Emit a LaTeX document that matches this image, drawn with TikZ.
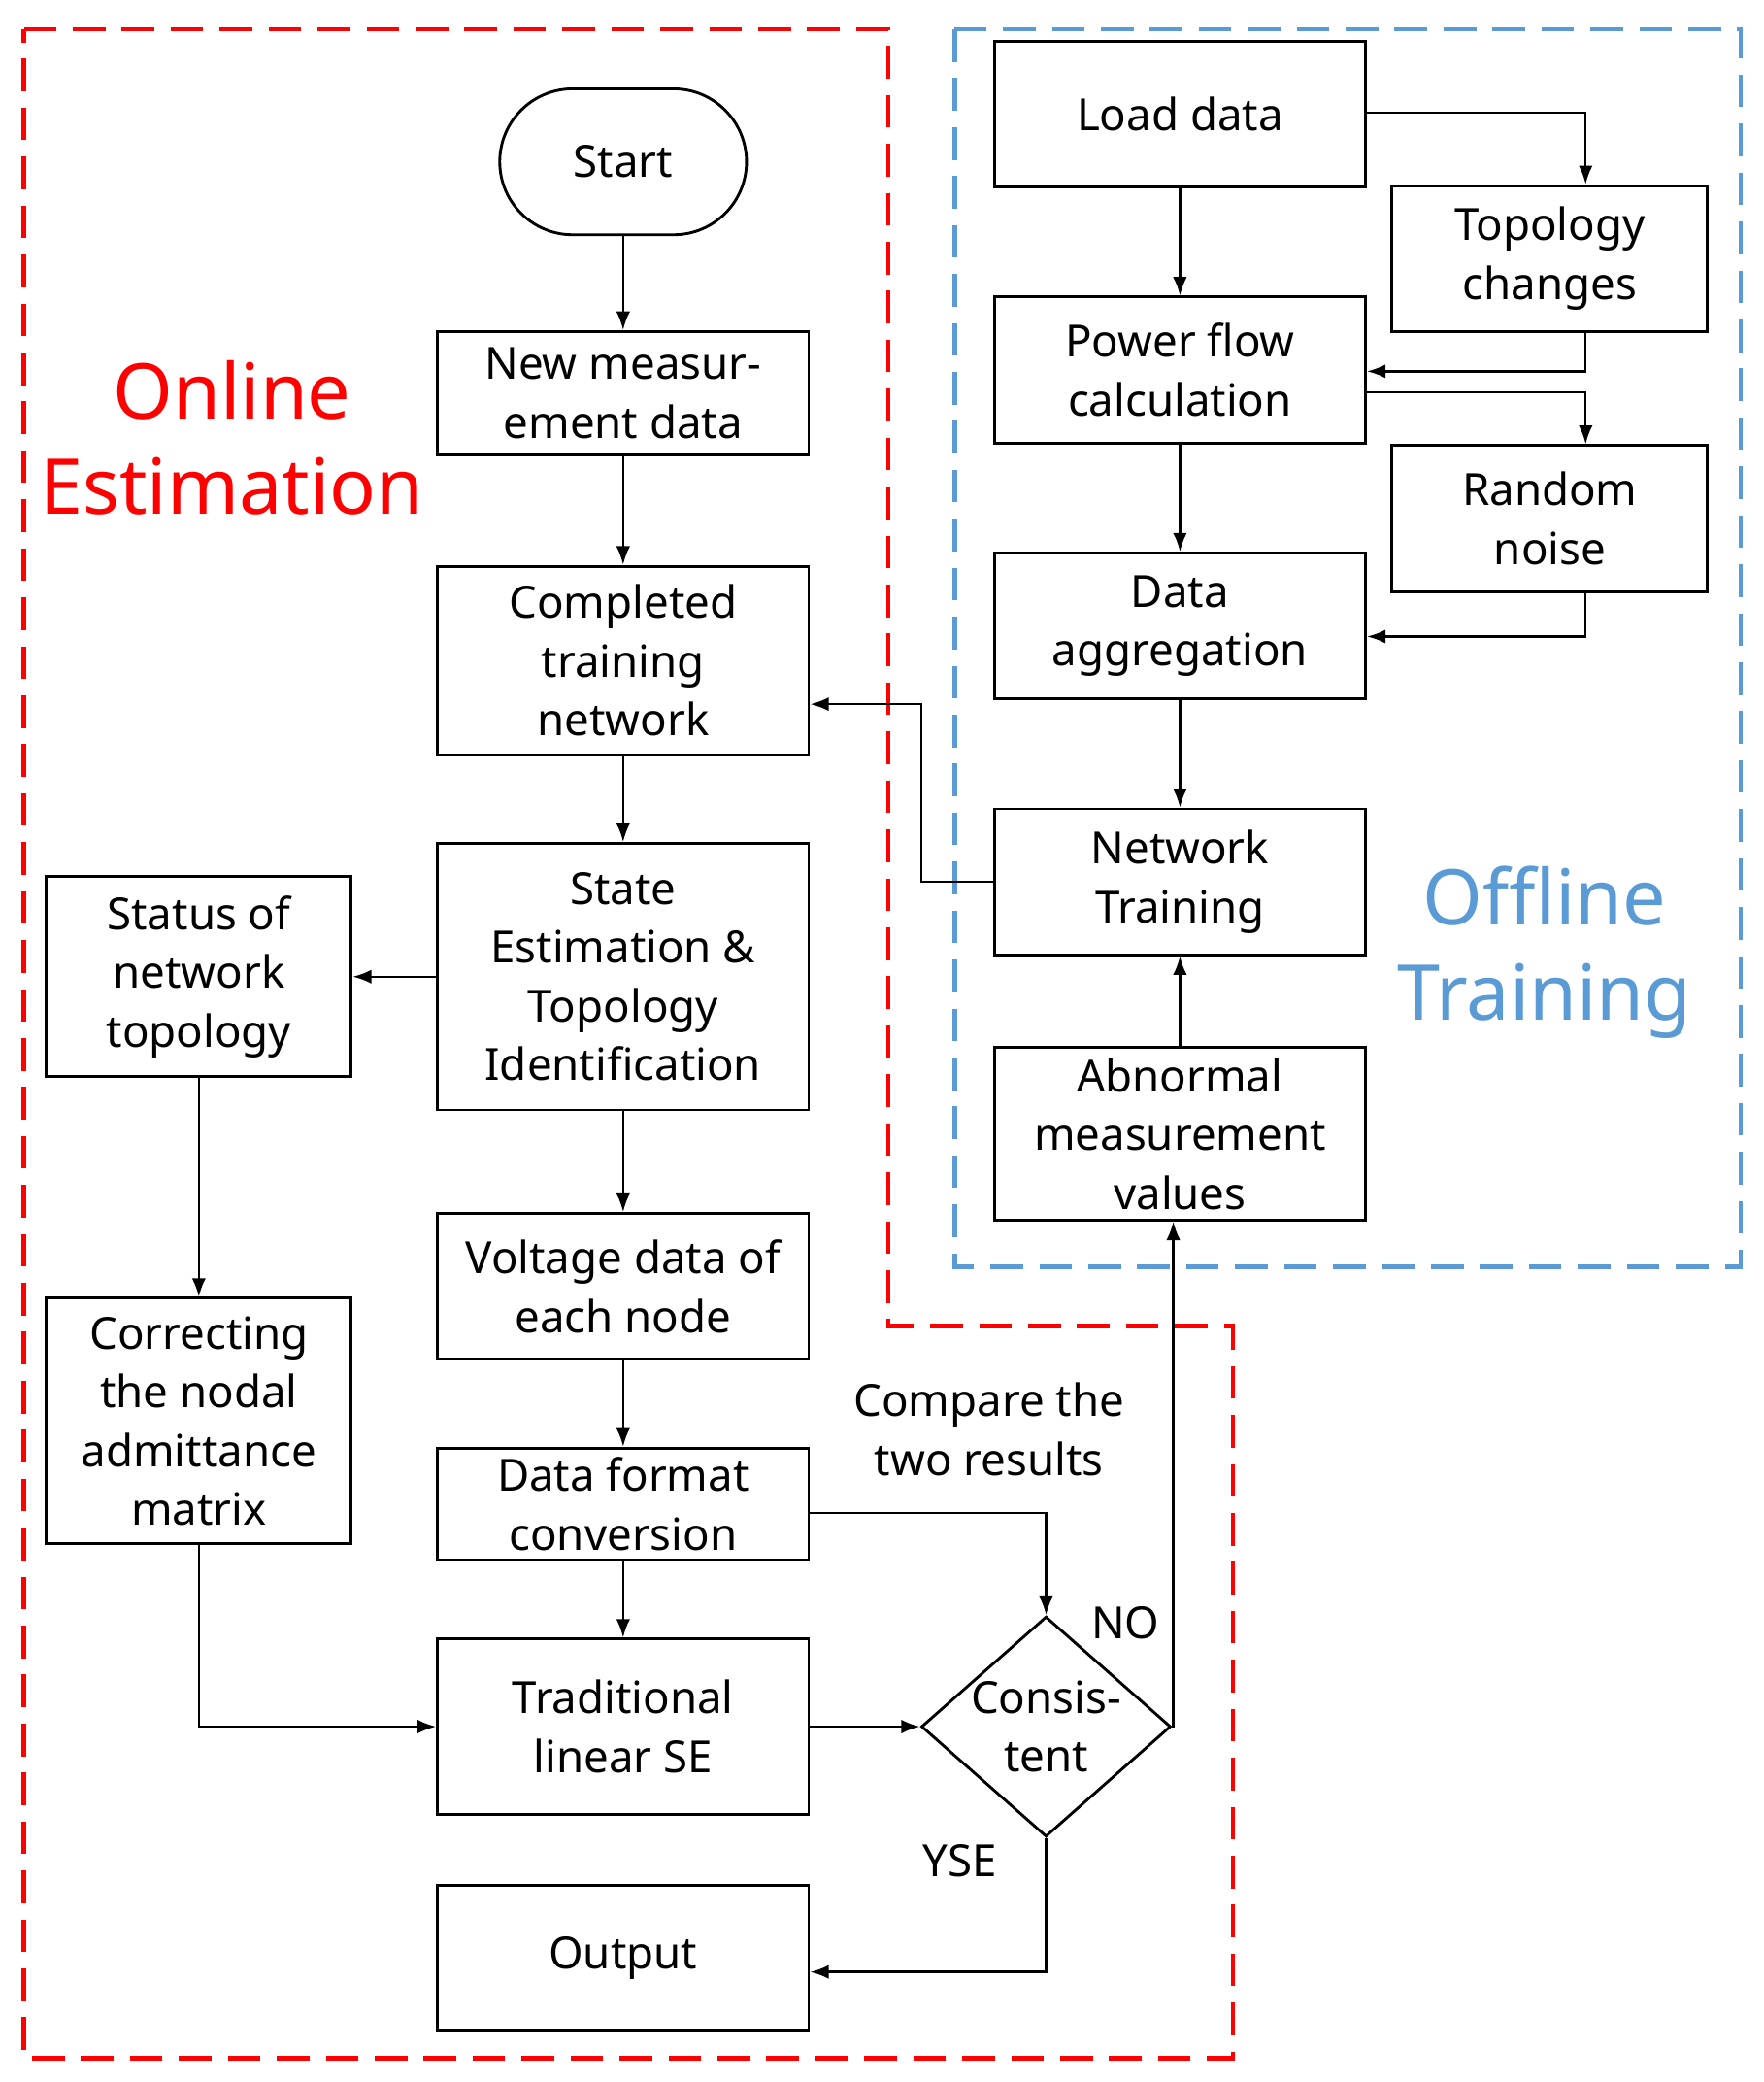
\documentclass[tikz,border=0pt]{standalone}
\usepackage{fontspec}
\setmainfont{Noto Sans}
\usetikzlibrary{shapes.geometric,arrows.meta}
\begin{document}
\begin{tikzpicture}[x=0.01cm,y=-0.01cm,
  box/.style={draw,line width=0.6pt,align=center,inner sep=0pt,font=\fontsize{9.5}{12.6}\selectfont},
  arr/.style={-{Latex[length=4pt,width=3pt]},line width=0.5pt},
  lbl/.style={align=center,font=\fontsize{9.5}{12.6}\selectfont}]
\useasboundingbox (0,0) rectangle (1330,1570);
\draw[red,line width=1pt,dash pattern=on 7pt off 3.5pt] (18,22) -- (670,22) -- (670,1000) -- (930,1000) -- (930,1552) -- (18,1552) -- cycle;
\draw[color={rgb,255:red,91;green,155;blue,213},line width=1pt,dash pattern=on 7pt off 3.5pt] (720,22) rectangle (1313,955);
\node[red,align=center,font=\fontsize{16.5}{20.5}\selectfont] (on) at (175,330) {Online\\Estimation};
\node[color={rgb,255:red,91;green,155;blue,213},align=center,font=\fontsize{16.5}{20.5}\selectfont] (off) at (1165,718) {Offline\\Training};
\newcommand{\bx}[6]{\node[box,minimum width={(#4-#3)*0.01cm},minimum height={(#6-#5)*0.01cm}] (#1) at ({(#3+#4)/2},{(#5+#6)/2}) {#2};}
\node[draw,line width=0.6pt,rounded corners=55*0.01cm,minimum width=1.86cm,minimum height=1.1cm,font=\fontsize{9.5}{12.6}\selectfont] (start) at (470,122) {Start};
\bx{new}{New measur-\\ement data}{330}{610}{250}{343}
\bx{comp}{Completed\\training\\network}{330}{610}{427}{569}
\bx{se}{State\\Estimation \&\\Topology\\Identification}{330}{610}{636}{837}
\bx{volt}{Voltage data of\\each node}{330}{610}{915}{1025}
\bx{fmt}{Data format\\conversion}{330}{610}{1092}{1176}
\bx{trad}{Traditional\\linear SE}{330}{610}{1236}{1368}
\bx{out}{Output}{330}{610}{1422}{1531}
\bx{stat}{Status of\\network\\topology}{35}{265}{661}{812}
\bx{corr}{Correcting\\the nodal\\admittance\\matrix}{35}{265}{979}{1164}
\bx{load}{Load data}{750}{1030}{31}{141}
\bx{topo}{Topology\\changes}{1050}{1288}{140}{250}
\bx{pf}{Power flow\\calculation}{750}{1030}{224}{334}
\bx{rn}{Random\\noise}{1050}{1288}{336}{446}
\bx{agg}{Data\\aggregation}{750}{1030}{417}{527}
\bx{nt}{Network\\Training}{750}{1030}{610}{720}
\bx{ab}{Abnormal\\measurement\\values}{750}{1030}{790}{920}
\node[diamond,draw,line width=0.6pt,shape aspect=1.13,minimum width=1.88cm,minimum height=1.66cm,inner sep=-4pt,align=center,font=\fontsize{9.5}{12.6}\selectfont] (dia) at (789,1302) {Consis-\\tent};
\node[lbl] (cmp) at (746,1078) {Compare the\\two results};
\node[lbl] (no) at (849,1224) {NO};
\node[lbl] (yse) at (724,1403) {YSE};
\draw[arr] (start) -- (new);
\draw[arr] (new) -- (comp);
\draw[arr] (comp) -- (se);
\draw[arr] (se) -- (volt);
\draw[arr] (volt) -- (fmt);
\draw[arr] (fmt) -- (trad);
\draw[arr] (se) -- (stat);
\draw[arr] (stat) -- (corr);
\draw[arr] (corr.south) |- (trad.west);
\draw[arr] (trad) -- (dia);
\draw[arr] (fmt.east |- 0,1141) -| (dia.north);
\draw[arr] (dia.east) -| (ab.south -| 885,0);
\draw[arr] (dia.south) |- (out.east |- 0,1487);
\draw[arr] (ab) -- (nt);
\draw[arr] (nt.west) -- (695,665) |- (comp.east |- 0,531);
\draw[arr] (load.east |- 0,85) -| (topo.north -| 1196,0);
\draw[arr] (topo.south -| 1196,0) |- (pf.east |- 0,280);
\draw[arr] (pf.east |- 0,296) -| (rn.north -| 1196,0);
\draw[arr] (rn.south -| 1196,0) |- (agg.east |- 0,480);
\draw[arr] (load) -- (pf);
\draw[arr] (pf) -- (agg);
\draw[arr] (agg) -- (nt);
\end{tikzpicture}
\end{document}
